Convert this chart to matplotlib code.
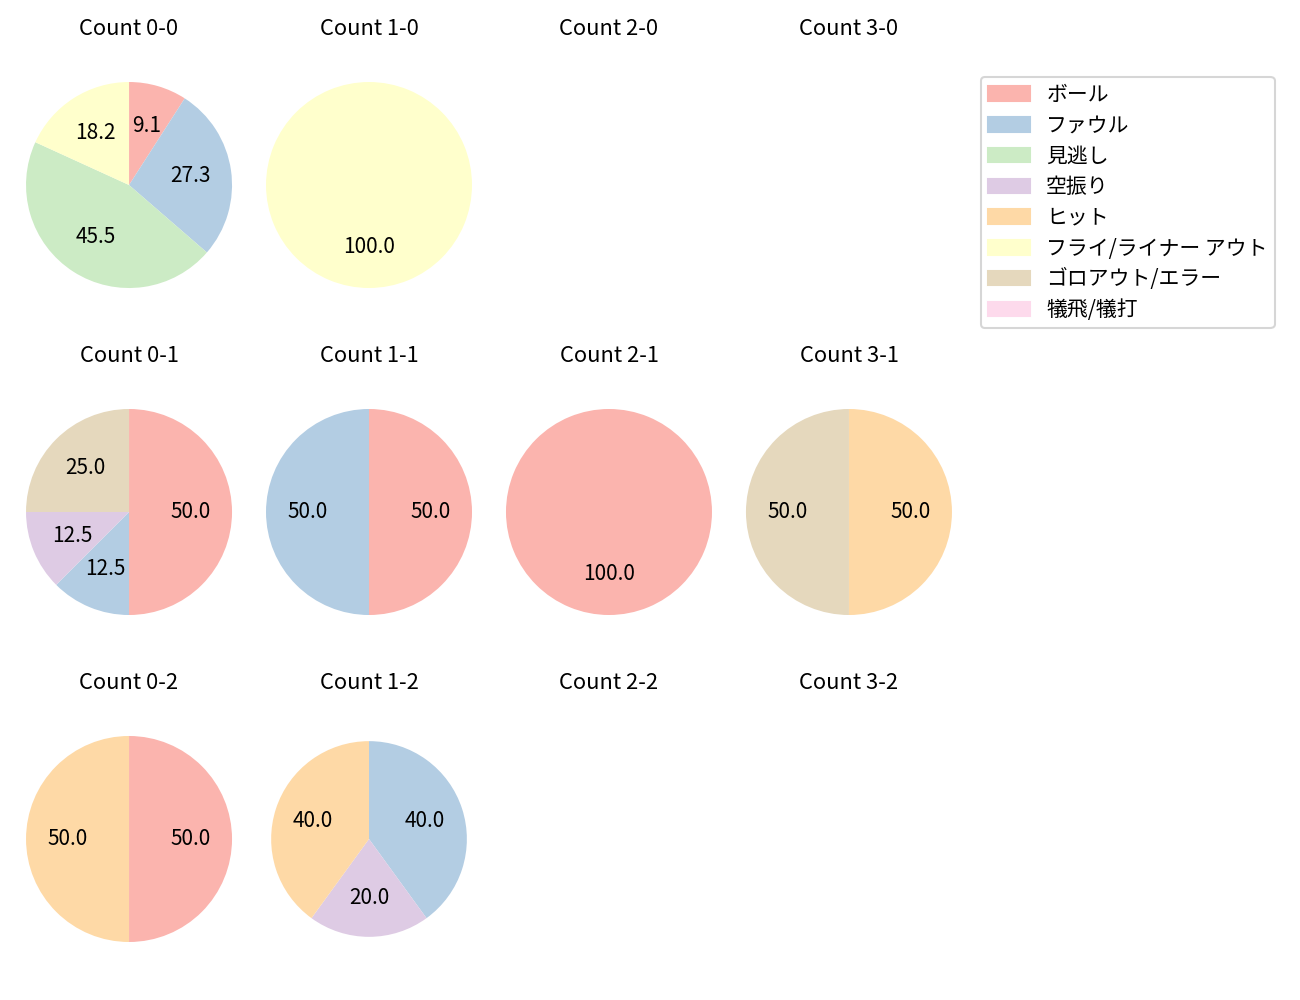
import matplotlib
matplotlib.use("Agg")
import matplotlib.pyplot as plt
import matplotlib.patches as mpatches

plt.rcParams['font.family'] = ['Noto Sans CJK JP', 'DejaVu Sans']

# result categories (legend order)
categories = ['ボール', 'ファウル', '見逃し', '空振り', 'ヒット',
              'フライ/ライナー アウト', 'ゴロアウト/エラー', '犠飛/犠打']

# pitch counts per ball-strike count, same order as categories
count_0_0 = [1, 3, 5, 0, 0, 2, 0, 0]
count_1_0 = [0, 0, 0, 0, 0, 1, 0, 0]
count_2_0 = [0, 0, 0, 0, 0, 0, 0, 0]
count_3_0 = [0, 0, 0, 0, 0, 0, 0, 0]
count_0_1 = [4, 1, 0, 1, 0, 0, 2, 0]
count_1_1 = [1, 1, 0, 0, 0, 0, 0, 0]
count_2_1 = [1, 0, 0, 0, 0, 0, 0, 0]
count_3_1 = [0, 0, 0, 0, 1, 0, 1, 0]
count_0_2 = [1, 0, 0, 0, 1, 0, 0, 0]
count_1_2 = [0, 2, 0, 1, 2, 0, 0, 0]
count_2_2 = [0, 0, 0, 0, 0, 0, 0, 0]
count_3_2 = [0, 0, 0, 0, 0, 0, 0, 0]

grid = [
    [("0-0", count_0_0), ("1-0", count_1_0), ("2-0", count_2_0), ("3-0", count_3_0)],
    [("0-1", count_0_1), ("1-1", count_1_1), ("2-1", count_2_1), ("3-1", count_3_1)],
    [("0-2", count_0_2), ("1-2", count_1_2), ("2-2", count_2_2), ("3-2", count_3_2)],
]

colors = plt.cm.Pastel1.colors[:8]

fig, axes = plt.subplots(3, 4, figsize=(13 / 1.5, 10 / 1.5), dpi=150)
fig.subplots_adjust(left=0.0121, right=0.7402, top=0.95, bottom=0.026,
                    wspace=0.059, hspace=0.211)

for r, row in enumerate(grid):
    for c, (name, vals) in enumerate(row):
        ax = axes[r][c]
        ax.set_title(f"Count {name}", fontsize=10.5, pad=7)
        ax.axis('off')
        # drop empty categories so no 0.0 labels show up
        sizes = [v for v in vals if v > 0]
        cols = [colors[i] for i, v in enumerate(vals) if v > 0]
        if sizes:
            rad = 0.95 if name == "1-2" else 1.0
            ax.pie(sizes, colors=cols, autopct='%.1f', startangle=90,
                   counterclock=False, radius=rad)
        ax.set_xlim(-1.1, 1.1)
        ax.set_ylim(-1.1, 1.1)
        ax.set_aspect('equal', adjustable='datalim')

handles = [mpatches.Patch(color=colors[i], label=cat) for i, cat in enumerate(categories)]
fig.legend(handles=handles, loc='upper left',
           bbox_to_anchor=(981 / 1300, 1 - 77 / 1000), borderaxespad=0,
           labelspacing=0.42, borderpad=0.33)

fig.savefig("out.png", dpi=150)
